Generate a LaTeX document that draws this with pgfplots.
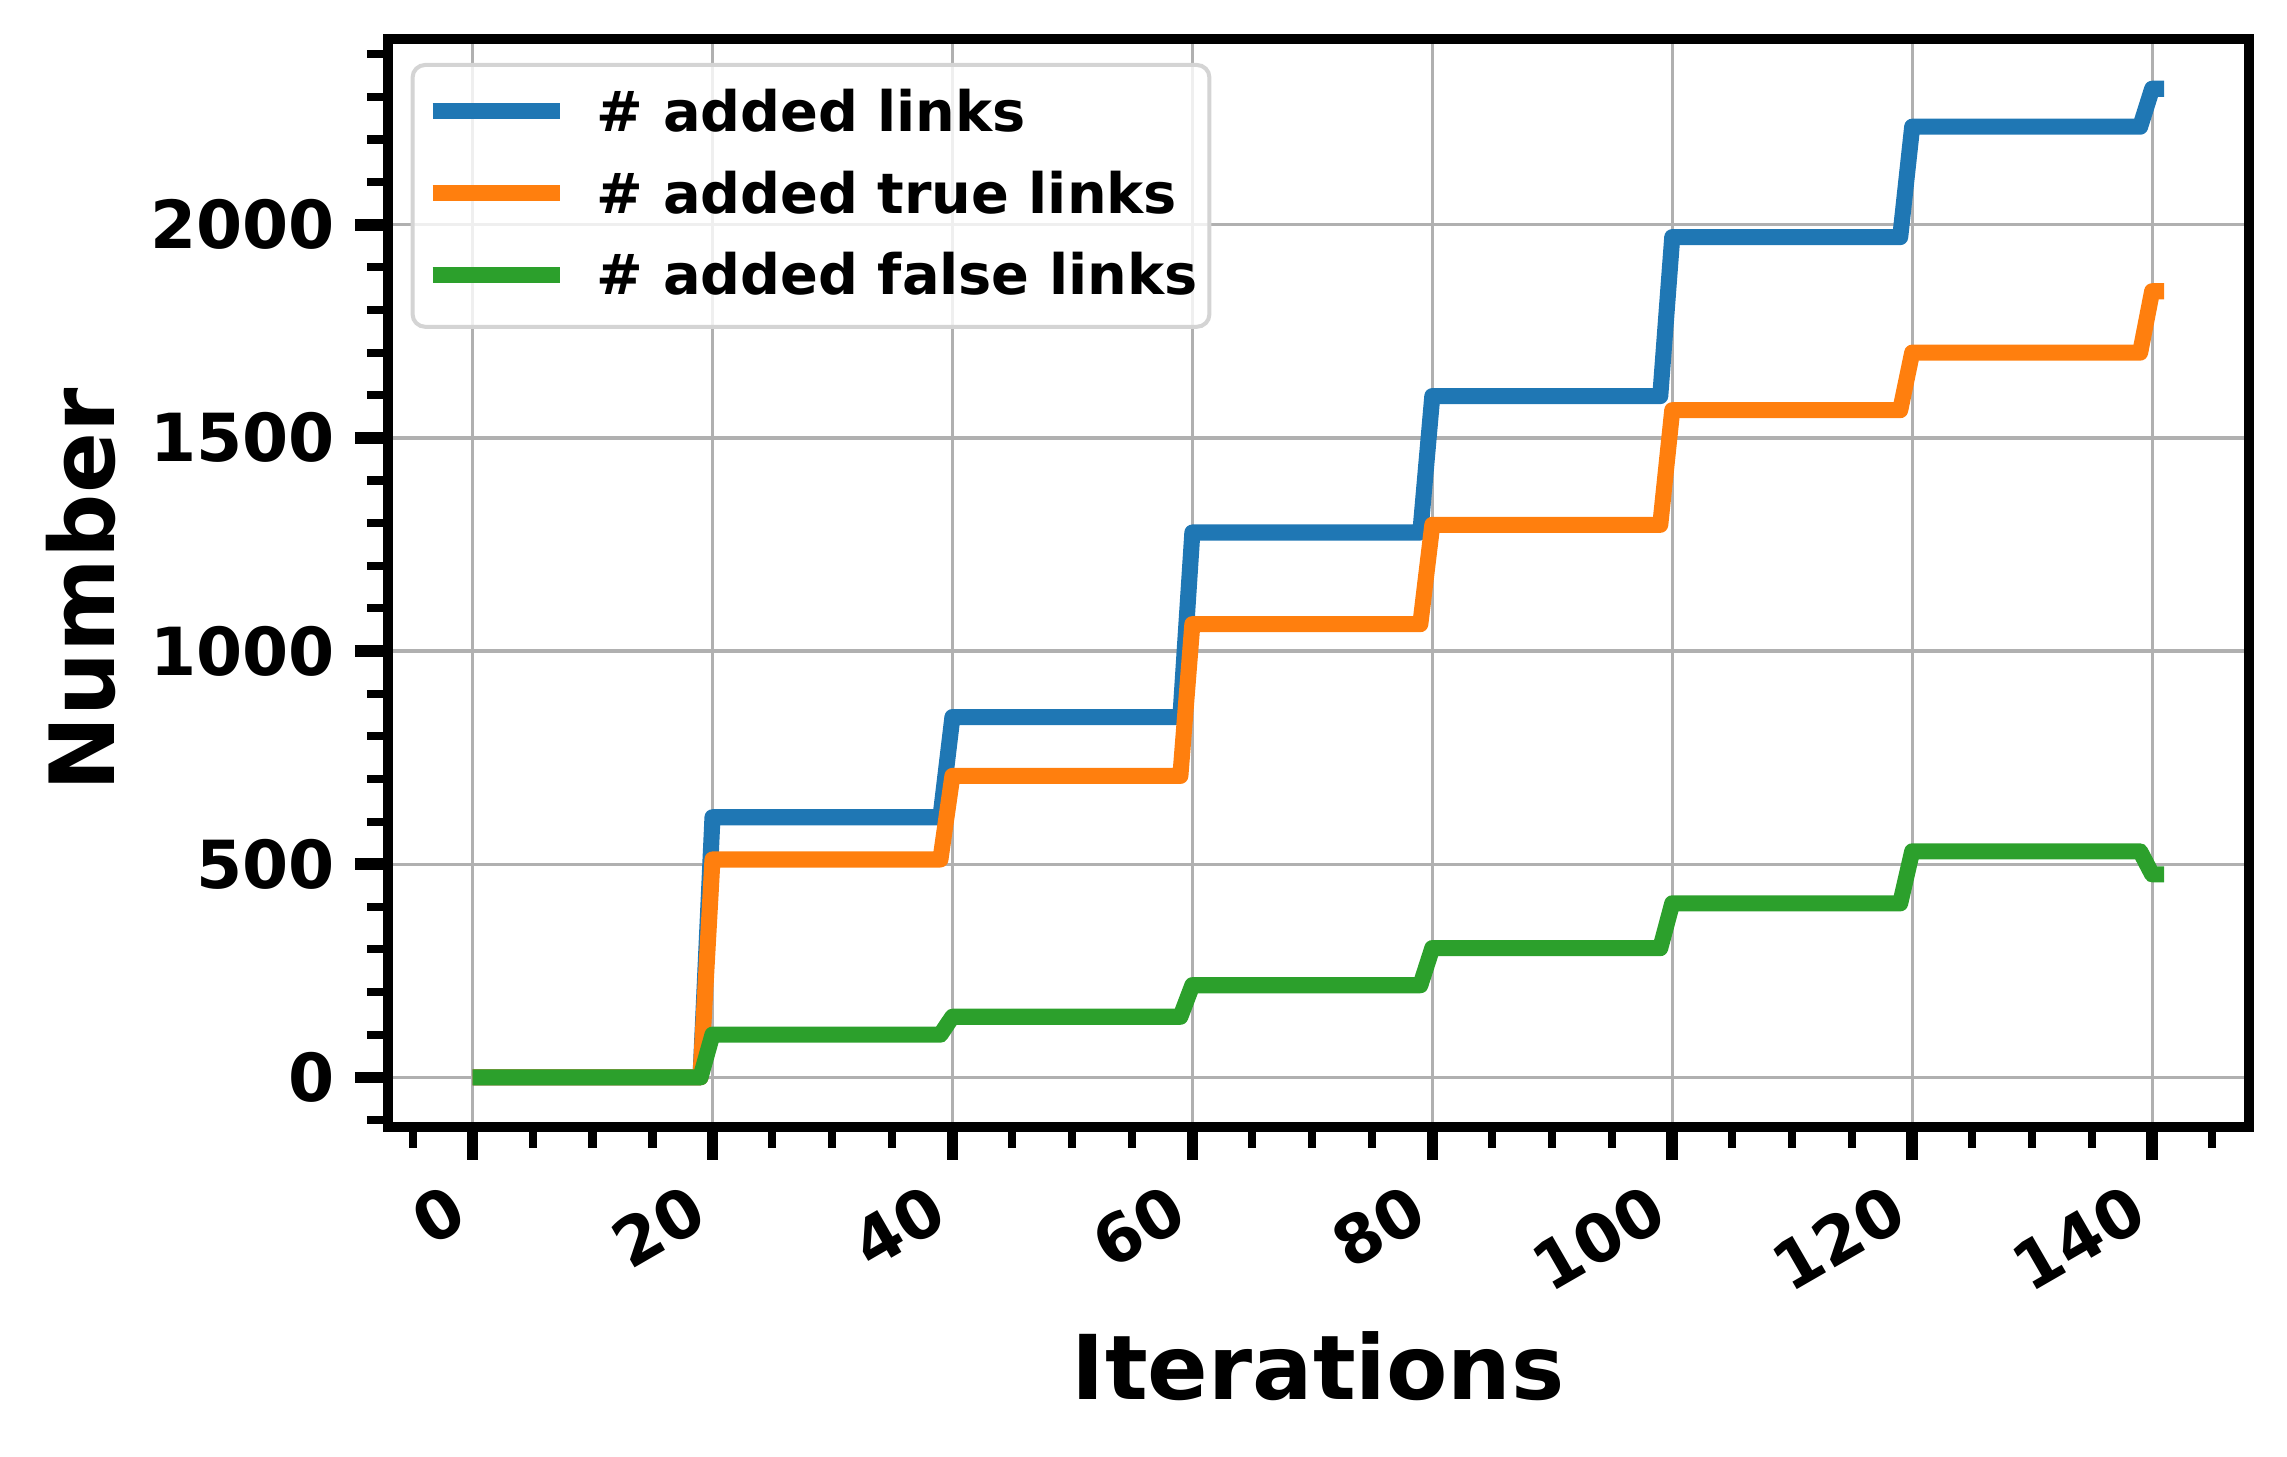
\documentclass[border=0pt]{standalone}
\usepackage{fontspec}
\setmainfont{DejaVu Sans}
\usepackage{pgfplots}
\pgfplotsset{compat=1.18}

\definecolor{tabblue}{HTML}{1F77B4}
\definecolor{taborange}{HTML}{FF7F0E}
\definecolor{tabgreen}{HTML}{2CA02C}

\begin{document}
\begin{tikzpicture}
\begin{axis}[
  scale only axis,
  width=13.017cm, height=7.607cm,
  xmin=-7.05, xmax=148.05,
  ymin=-116, ymax=2435,
  xtick={0,20,...,140},
  ytick={0,500,...,2000},
  minor xtick={-5,5,10,15,25,30,35,45,50,55,65,70,75,85,90,95,105,110,115,125,130,135,145},
  minor ytick={-100,100,200,300,400,600,700,800,900,1100,1200,1300,1400,1600,1700,1800,1900,2100,2200,2300,2400},
  tick pos=left,
  tick align=outside,
  major tick length=6.6pt,
  minor tick length=4.2pt,
  major tick style={line width=2.3pt, black},
  minor tick style={line width=1.6pt, black},
  axis line style={line width=2pt},
  grid=major,
  major grid style={line width=0.65pt, color=black!31},
  scaled ticks=false,
  /pgf/number format/assume math mode=true,
  /pgf/number format/set thousands separator={},
  ticklabel style={font=\fontsize{13.2}{15}\selectfont\bfseries, inner sep=0pt, text height=9.6pt, text depth=0pt},
  xticklabel style={xshift=-5.1pt, yshift=-4.3pt, rotate=30, anchor=north east},
  yticklabel style={anchor=east, xshift=-3.8pt},
  xlabel={Iterations},
  ylabel={Number},
  xlabel style={at={(axis description cs:0.5,-0.2504)}, anchor=base, font=\fontsize{17.8}{20}\selectfont\bfseries},
  ylabel style={at={(axis description cs:-0.1467,0.4936)}, anchor=base, font=\fontsize{17.9}{20}\selectfont\bfseries},
  legend style={
    at={(0,1)}, anchor=north west, xshift=4.5pt, yshift=-4.7pt,
    draw=black!17, line width=0.8pt, rounded corners=2.5pt,
    fill=white, fill opacity=0.8, text opacity=1,
    font=\fontsize{11.1}{13}\selectfont\bfseries,
    inner xsep=2.4pt, inner ysep=5.15pt,
    row sep=6.96pt, column sep=5.7pt,
    nodes={inner sep=0pt, text height=8.1pt, text depth=1.2pt},
    cells={anchor=west},
  },
  legend image code/.code={\draw[#1, line cap=butt] (0pt,0.6pt) -- (25.4pt,0.6pt);},
  every axis plot/.append style={line width=3.2pt, line join=round, line cap=butt, no markers},
]
\addplot[tabblue] coordinates {
(0,0)(19,0)(20,610)(39,610)(40,845)(59,845)(60,1278)(79,1278)(80,1598)(99,1598)(100,1971)(119,1971)(120,2230)(139,2230)(140,2319)(141,2319)
};
\addplot[taborange] coordinates {
(0,0)(19,0)(20,511)(39,511)(40,707)(59,707)(60,1063)(79,1063)(80,1296)(99,1296)(100,1565)(119,1565)(120,1700)(139,1700)(140,1844)(141,1844)
};
\addplot[tabgreen] coordinates {
(0,0)(19,0)(20,100)(39,100)(40,142)(59,142)(60,216)(79,216)(80,303)(99,303)(100,408)(119,408)(120,530)(139,530)(140,476)(141,476)
};
\legend{\# added links,\# added true links,\# added false links}
\end{axis}
\pgfresetboundingbox
\path ([shift={(-2.714cm,-2.304cm)}]current axis.south west) rectangle ([shift={(0.268cm,0.275cm)}]current axis.north east);
\end{tikzpicture}
\end{document}
